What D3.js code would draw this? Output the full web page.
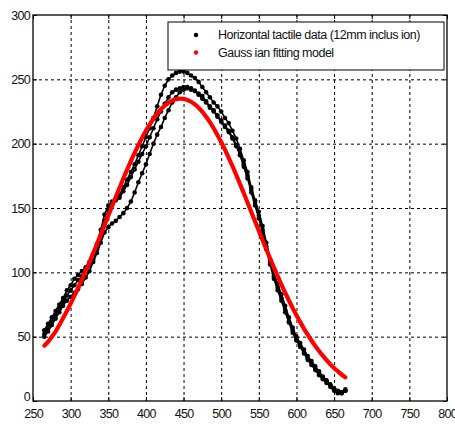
<!DOCTYPE html>
<html>
<head>
<meta charset="utf-8">
<script src="https://cdn.jsdelivr.net/npm/d3@7"></script>
<style>
  body { margin: 0; background: #fff; }
  svg { display: block; font-family: "Liberation Sans", Arial, sans-serif; }
  .grid line { stroke: #000; stroke-width: 1; stroke-dasharray: 3,3; }
  .grid path { display: none; }
  .axis path { display: none; }
  .axis line { stroke: #000; }
  .axis text { font-size: 12.5px; letter-spacing: -0.7px; fill: #111; }
</style>
</head>
<body>
<div id="chart"></div>
<script>
// x positions shared by all series (mm)
var xs = [265, 270, 275, 280, 285, 290, 295, 300, 305, 310, 315, 320, 325, 330, 335, 340,
  345, 350, 355, 360, 365, 370, 375, 380, 385, 390, 395, 400, 405, 410, 415, 420, 425, 430,
  435, 440, 445, 450, 455, 460, 465, 470, 475, 480, 485, 490, 495, 500, 505, 510, 515, 520,
  525, 530, 535, 540, 545, 550, 555, 560, 565, 570, 575, 580, 585, 590, 595, 600, 605, 610,
  615, 620, 625, 630, 635, 640, 645, 650, 655, 660, 665];

// tactile data, three passes
var passA = [55, 60, 65, 70, 75, 80, 86, 90, 95, 98, 101, 104, 108, 114, 122, 133,
  145, 152, 155, 157, 160, 166, 172, 178, 184, 191, 198, 205, 212, 220, 229, 238, 245, 250,
  253, 255, 256, 256, 255, 253, 251, 248, 244, 240, 236, 232, 229, 225, 220, 216, 210, 204,
  196, 187, 178, 166, 156, 147, 136, 123, 110, 99, 91, 83, 74, 65, 57, 50, 45, 40,
  35, 31, 27, 23, 19, 16, 13, 10, 8, 7, 9];
var passB = [52, 57, 62, 67, 72, 77, 82, 86, 90, 94, 97, 101, 105, 110, 118, 128,
  140, 148, 153, 156, 158, 163, 168, 174, 180, 186, 192, 198, 205, 212, 219, 225, 231, 236,
  240, 242, 243, 244, 244, 243, 241, 239, 237, 233, 229, 226, 222, 218, 214, 210, 205, 199,
  192, 184, 175, 164, 154, 144, 133, 120, 108, 97, 88, 80, 71, 62, 55, 48, 43, 38,
  33, 29, 25, 21, 18, 15, 12, 9, 7, 6, 8];
var passC = [50, 54, 59, 64, 69, 74, 78, 81, 84, 87, 91, 96, 101, 108, 115, 123,
  131, 135, 138, 140, 143, 146, 150, 155, 162, 170, 177, 184, 192, 200, 207, 213, 220, 226,
  232, 236, 240, 242, 243, 242, 241, 238, 235, 232, 228, 225, 221, 217, 213, 209, 204, 198,
  191, 182, 173, 162, 152, 142, 131, 118, 106, 95, 86, 78, 69, 61, 53, 47, 42, 37,
  32, 28, 24, 20, 17, 14, 11, 8, 6, 6, 8];

// gaussian fitting model
var fitY = [43, 46, 50, 54, 59, 64.5, 70, 75.7, 81.7, 87.9, 94.4, 101.1, 107.9, 114.9, 122.1, 129.3,
  136.7, 144, 151.3, 158.6, 165.8, 172.9, 179.8, 186.4, 192.8, 198.9, 204.7, 210, 214.9, 219.4, 223.3, 226.7, 229.5, 231.8,
  233.5, 234.6, 235, 234.8, 234, 232.6, 230.5, 227.9, 224.7, 221, 216.8, 212, 206.8, 201.3, 195.3, 189, 182.5, 175.7,
  168.7, 161.5, 154.3, 146.9, 139.6, 132.3, 125, 117.8, 110.7, 103.8, 97.1, 90.5, 84.2, 78.1, 72.2, 66.6, 61.3, 56.3,
  51.5, 47, 42.8, 38.9, 35.2, 31.8, 28.6, 25.7, 23.1, 20.6, 18.4];

var xTicks = [250, 300, 350, 400, 450, 500, 550, 600, 650, 700, 750, 800];
var yTicks = [0, 50, 100, 150, 200, 250, 300];

var legendLabels = ["Horizontal tactile data (12mm inclus ion)", "Gauss ian fitting model"];

var W = 455, H = 424;
var margin = {top: 15, right: 8, bottom: 23, left: 33};
var width = W - margin.left - margin.right,
  height = H - margin.top - margin.bottom;

var svg = d3.select("#chart").append("svg")
  .attr("width", W)
  .attr("height", H);

var g = svg.append("g")
  .attr("transform", "translate(" + margin.left + "," + margin.top + ")");

var x = d3.scaleLinear().domain([250, 800]).range([0, width]);
var y = d3.scaleLinear().domain([0, 300]).range([height, 0]);

// dashed grid
g.append("g")
  .attr("class", "grid")
  .attr("transform", "translate(0," + height + ")")
  .call(d3.axisBottom(x).tickValues(xTicks.slice(1, -1)).tickSize(-height).tickFormat(""));
g.append("g")
  .attr("class", "grid")
  .call(d3.axisLeft(y).tickValues(yTicks.slice(1, -1)).tickSize(-width).tickFormat(""));

// axes, ticks pointing inward
g.append("g")
  .attr("class", "axis")
  .attr("transform", "translate(0," + height + ")")
  .call(d3.axisBottom(x).tickValues(xTicks).tickSizeInner(-4).tickSizeOuter(0).tickPadding(8));
var yAx = g.append("g")
  .attr("class", "axis")
  .call(d3.axisLeft(y).tickValues(yTicks).tickSizeInner(-4).tickSizeOuter(0).tickPadding(3));
// nudge the 0 label up so it clears the 250 below it
yAx.selectAll(".tick text").filter(function(d) { return d === 0; }).attr("dy", "-0.05em");
g.append("g")
  .attr("class", "axis")
  .call(d3.axisTop(x).tickValues(xTicks).tickSizeInner(-4).tickSizeOuter(0).tickFormat(""));
g.append("g")
  .attr("class", "axis")
  .attr("transform", "translate(" + width + ",0)")
  .call(d3.axisRight(y).tickValues(yTicks).tickSizeInner(-4).tickSizeOuter(0).tickFormat(""));

// data: thin trace plus dots for each pass
var passes = [passA, passB, passC];
passes.forEach(function(p) {
  var pl = d3.line()
    .x(function(d) { return x(d); })
    .y(function(d, i) { return y(p[i]); });
  g.append("path")
    .datum(xs)
    .attr("d", pl)
    .attr("fill", "none")
    .attr("stroke", "#000")
    .attr("stroke-width", 1.6);
  g.append("g")
    .selectAll("circle")
    .data(xs)
    .enter().append("circle")
    .attr("cx", function(d) { return x(d); })
    .attr("cy", function(d, i) { return y(p[i]); })
    .attr("r", 2.3)
    .attr("fill", "#000");
});

// fitting model
var line = d3.line()
  .x(function(d) { return x(d); })
  .y(function(d, i) { return y(fitY[i]); })
  .curve(d3.curveMonotoneX);

g.append("path")
  .datum(xs)
  .attr("d", line)
  .attr("fill", "none")
  .attr("stroke", "#ff0000")
  .attr("stroke-width", 4.2)
  .attr("stroke-linecap", "round");

// box
g.append("rect")
  .attr("width", width)
  .attr("height", height)
  .attr("fill", "none")
  .attr("stroke", "#000")
  .attr("stroke-width", 1.3);

// legend
var lg = svg.append("g").attr("transform", "translate(168,22)");
lg.append("rect")
  .attr("width", 276)
  .attr("height", 48)
  .attr("fill", "#fff")
  .attr("stroke", "#000")
  .attr("stroke-width", 1);

var legendColors = ["#000", "#ff0000"];
legendLabels.forEach(function(t, i) {
  lg.append("circle")
    .attr("cx", 28)
    .attr("cy", 13 + i * 17.5)
    .attr("r", 2.2)
    .attr("fill", legendColors[i]);
  lg.append("text")
    .attr("x", 50)
    .attr("y", 13 + i * 17.5)
    .attr("dy", "0.35em")
    .attr("font-size", 12.5)
    .attr("letter-spacing", -0.5)
    .attr("fill", "#111")
    .text(t);
});
</script>
</body>
</html>
